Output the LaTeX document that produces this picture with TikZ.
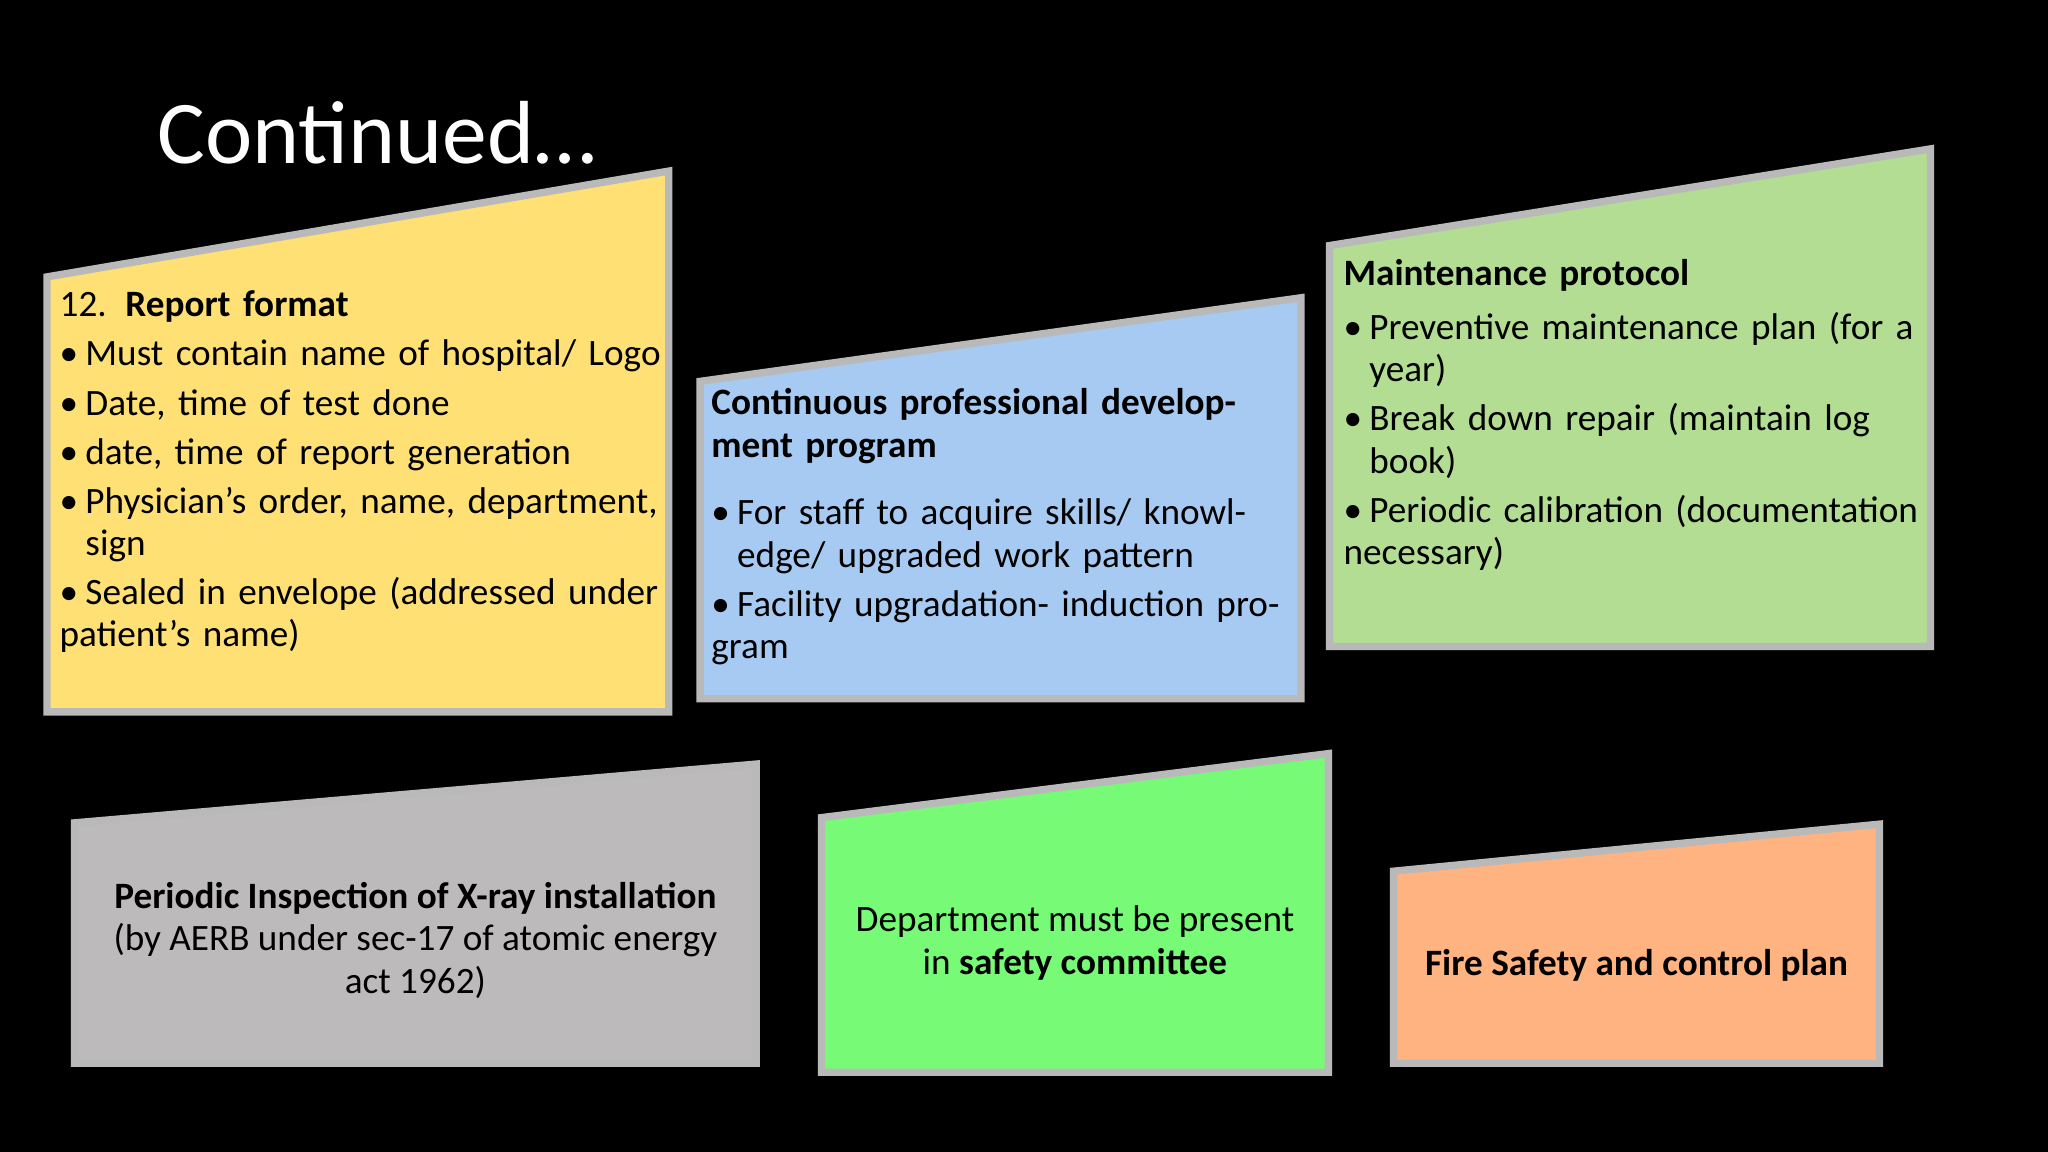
\documentclass[tikz,border=0pt]{standalone}
\usepackage{fontspec}
\setmainfont{Carlito}
\newcommand\itm{\par\vspace{1.5pt}\hangindent=1.45ex\hangafter=1\noindent\makebox[1.45ex][l]{•}}
\tikzset{
  panel/.style={draw=#1!55!white, line width=1.6pt},
  txt/.style={anchor=north west, inner sep=0pt, align=left, text=black,
    font=\fontsize{8.1}{9.2}\selectfont},
}
\definecolor{cyel}{HTML}{FFE074}
\definecolor{cblu}{HTML}{A6CAF2}
\definecolor{cgrn}{HTML}{B2DD92}
\definecolor{cgry}{HTML}{BCBABA}
\definecolor{cbgr}{HTML}{77FB77}
\definecolor{cora}{HTML}{FFB380}
\begin{document}
\begin{tikzpicture}[x=0.01cm,y=-0.01cm]
\fill[black] (0,0) rectangle (1568,882);
\useasboundingbox (0,0) rectangle (1568,882);
\node[anchor=west,text=white,inner sep=0pt,font=\fontsize{19.5}{22}\selectfont] (title) at (120,102) {Continued…};
% panels
\filldraw[fill=cyel,panel=gray] (36,212) -- (512,131) -- (512,545) -- (36,545) -- cycle;
\filldraw[fill=cblu,panel=gray] (536,292) -- (996,228) -- (996,535) -- (536,535) -- cycle;
\filldraw[fill=cgrn,panel=gray] (1018,188) -- (1478,114) -- (1478,495) -- (1018,495) -- cycle;
\filldraw[fill=cgry,panel=gray] (57,630) -- (579,585) -- (579,814) -- (57,814) -- cycle;
\filldraw[fill=cbgr,panel=gray] (629,626) -- (1017,577) -- (1017,821) -- (629,821) -- cycle;
\filldraw[fill=cora,panel=gray] (1067,667) -- (1439,631) -- (1439,814) -- (1067,814) -- cycle;
% texts
\node[txt,text width=4.7cm] (t1) at (45,222) {12. \textbf{Report format}
\itm Must contain name of hospital/ Logo
\itm Date, time of test done
\itm date, time of report generation
\itm Physician's order, name, department, sign
\itm Sealed in envelope (addressed under patient’s name)};
\node[txt,text width=4.5cm] (t2) at (544,297) {\textbf{Continuous professional development program}\par\vspace{4pt}
\itm For staff to acquire skills/ knowledge/ upgraded work pattern
\itm Facility upgradation- induction program};
\node[txt,text width=4.45cm] (t3) at (1028,198) {\textbf{Maintenance protocol}\par\vspace{1pt}
\itm Preventive maintenance plan (for a year)
\itm Break down repair (maintain log book)
\itm Periodic calibration (documentation necessary)};
\node[align=center,font=\fontsize{8.1}{9.2}\selectfont,inner sep=0pt] (t4) at (318,720) {\textbf{Periodic Inspection of X-ray installation}\\(by AERB under sec-17 of atomic energy\\act 1962)};
\node[align=center,font=\fontsize{8.1}{9.2}\selectfont,inner sep=0pt] (t5) at (823,722) {Department must be present\\in \textbf{safety committee}};
\node[align=center,font=\fontsize{8.1}{9.2}\selectfont,inner sep=0pt] (t6) at (1253,739) {\textbf{Fire Safety and control plan}};
\end{tikzpicture}
\end{document}
